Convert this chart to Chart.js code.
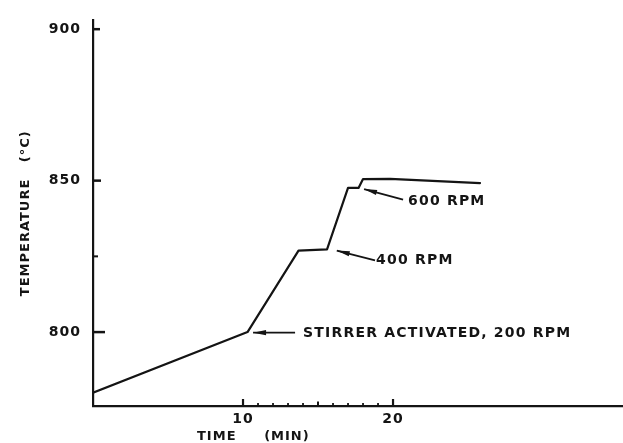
<!DOCTYPE html>
<html><head><meta charset="utf-8">
<script src="https://cdn.jsdelivr.net/npm/chart.js@4/dist/chart.umd.min.js"></script>
<style>html,body{margin:0;padding:0;background:#fff;}#wrap{width:623px;height:443px;}</style>
</head><body><div id="wrap"><canvas id="c" width="623" height="443"></canvas></div>
<script>
// ---- data ----
const timeMin = [0, 10.3, 13.7, 15.6, 17.0, 17.7, 18.0, 19.8, 25.8];
const tempC   = [780, 800, 826.9, 827.3, 847.6, 847.6, 850.5, 850.6, 849.2];
const xTickValues = [10, 20];
const xMidTicks = [15];
const xMinorTicks = [11, 12, 13, 14, 16, 17, 18, 19];
const yTickValues = [800, 850, 900];
const yMinorTicks = [825];
const annotationLabels = ['STIRRER ACTIVATED, 200 RPM', '400 RPM', '600 RPM'];
const annotationTextX = [14.0, 18.87, 21.0];
const annotationTextY = [799.6, 823.8, 843.3];
const arrowTipX  = [10.67, 16.25, 18.07];
const arrowTipY  = [799.8, 826.9, 847.2];
const arrowTailX = [13.47, 18.8, 20.67];
const arrowTailY = [799.8, 823.7, 843.7];

const ink = '#141414';
const FONT = '"DejaVu Sans", sans-serif';

const decor = {
  id: 'decor',
  beforeDraw(chart) { chart.ctx.letterSpacing = '1px'; },
  afterDraw(chart) {
    const ctx = chart.ctx, xs = chart.scales.x, ys = chart.scales.y;
    const L = chart.chartArea.left, B = chart.chartArea.bottom;
    ctx.save();
    ctx.strokeStyle = ink; ctx.fillStyle = ink; ctx.lineCap = 'butt';
    // y ticks (inward)
    const yLens = [12, 8, 7];
    ctx.lineWidth = 2.5;
    yTickValues.forEach((v, i) => {
      const p = ys.getPixelForValue(v);
      ctx.beginPath(); ctx.moveTo(L, p); ctx.lineTo(L + yLens[i], p); ctx.stroke();
    });
    ctx.lineWidth = 2;
    yMinorTicks.forEach(v => {
      const p = ys.getPixelForValue(v);
      ctx.beginPath(); ctx.moveTo(L, p); ctx.lineTo(L + 5, p); ctx.stroke();
    });
    // x ticks (inward)
    const xt = (vals, len, w) => { ctx.lineWidth = w; vals.forEach(v => {
      const p = xs.getPixelForValue(v);
      ctx.beginPath(); ctx.moveTo(p, B); ctx.lineTo(p, B - len); ctx.stroke(); }); };
    xt(xTickValues, 7, 2.2); xt(xMidTicks, 4.5, 2); xt(xMinorTicks, 3, 1.8);
    // annotations
    ctx.font = 'bold 14px ' + FONT;
    ctx.letterSpacing = '1.2px';
    ctx.textAlign = 'left'; ctx.textBaseline = 'middle';
    annotationLabels.forEach((t, i) => {
      ctx.fillText(t, xs.getPixelForValue(annotationTextX[i]), ys.getPixelForValue(annotationTextY[i]));
      const tx = xs.getPixelForValue(arrowTipX[i]), ty = ys.getPixelForValue(arrowTipY[i]);
      const sx = xs.getPixelForValue(arrowTailX[i]), sy = ys.getPixelForValue(arrowTailY[i]);
      ctx.lineWidth = 1.8;
      ctx.beginPath(); ctx.moveTo(sx, sy); ctx.lineTo(tx, ty); ctx.stroke();
      const a = Math.atan2(ty - sy, tx - sx);
      const hl = 13, hw = 2.6;
      const bx = tx - hl * Math.cos(a), by = ty - hl * Math.sin(a);
      ctx.beginPath();
      ctx.moveTo(tx, ty);
      ctx.lineTo(bx + hw * Math.sin(a), by - hw * Math.cos(a));
      ctx.lineTo(bx - hw * Math.sin(a), by + hw * Math.cos(a));
      ctx.closePath(); ctx.fill();
    });
    // x axis title
    ctx.font = 'bold 13px ' + FONT;
    ctx.letterSpacing = '1px';
    ctx.fillText('TIME     (MIN)', 197, 437);
    ctx.restore();
  }
};

new Chart(document.getElementById('c').getContext('2d'), {
  type: 'line',
  data: { datasets: [{
    data: timeMin.map((t, i) => ({ x: t, y: tempC[i] })),
    borderColor: ink, borderWidth: 2.2, pointRadius: 0, tension: 0, fill: false,
    borderJoinStyle: 'round', borderCapStyle: 'round'
  }] },
  options: {
    responsive: false, animation: false, devicePixelRatio: 1,
    layout: { padding: { top: 15, right: 0, left: 0, bottom: 0 } },
    plugins: { legend: { display: false }, tooltip: { enabled: false } },
    scales: {
      x: {
        type: 'linear', min: 0, max: 35.33,
        grid: { display: false, drawTicks: false },
        border: { display: true, color: ink, width: 2.2 },
        afterBuildTicks: s => { s.ticks = xTickValues.map(v => ({ value: v })); },
        afterFit: s => { s.height = 37; },
        ticks: { color: ink, font: { family: FONT, size: 14, weight: 'bold' }, padding: 5, maxRotation: 0, autoSkip: false }
      },
      y: {
        type: 'linear', min: 775.6, max: 902.9,
        grid: { display: false, drawTicks: false },
        border: { display: true, color: ink, width: 2.2 },
        afterBuildTicks: s => { s.ticks = yTickValues.map(v => ({ value: v })); },
        afterFit: s => { s.width = 93; },
        ticks: { color: ink, font: { family: FONT, size: 14, weight: 'bold' }, padding: 12 },
        title: { display: true, text: 'TEMPERATURE   (°C)', color: ink,
                 font: { family: FONT, size: 13, weight: 'bold' }, padding: { top: 18, bottom: 0 } }
      }
    }
  },
  plugins: [decor]
});
</script></body></html>
